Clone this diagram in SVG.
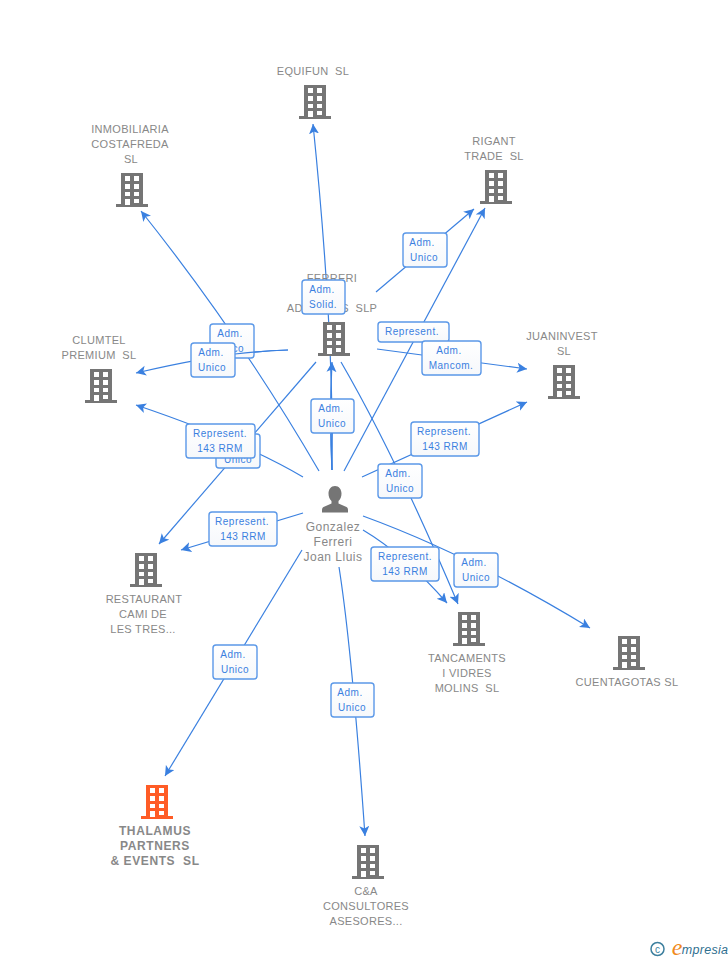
<svg xmlns="http://www.w3.org/2000/svg" width="728" height="960" viewBox="0 0 728 960">
<style>
text{font-family:"Liberation Sans",Arial,sans-serif;text-anchor:middle;white-space:pre}
.l{font-size:11px;fill:#888;letter-spacing:.3px}
.t{font-size:12px;font-weight:bold;fill:#888;letter-spacing:.6px}
.p{font-size:12px;fill:#888;letter-spacing:.5px}
.b{font-size:10px;fill:#3a80e0;letter-spacing:.5px}
.e{fill:none;stroke:#3a80e0;stroke-width:1.2;marker-end:url(#a)}
.n{fill:none;stroke:#3a80e0;stroke-width:1.2}
.box{fill:url(#g);stroke:#5b98e8;stroke-width:1.4}
</style>
<defs>
<linearGradient id="g" x1="0" y1="0" x2="0" y2="1"><stop offset="0" stop-color="#fff"/><stop offset="1" stop-color="#f6f8fb"/></linearGradient>
<marker id="a" markerUnits="userSpaceOnUse" markerWidth="11" markerHeight="11" refX="10" refY="5" orient="auto"><path d="M10,5 L0,0 L2.5,5 L0,10 z" fill="#3a80e0"/></marker>
<g id="bld">
<path d="M5,0H27V31H32V34H0V31H5Z"/>
<path fill="#fff" d="M9,3h5v5h-5zM18,3h5v5h-5zM9,11h5v5h-5zM18,11h5v5h-5zM9,19h5v4h-5zM18,19h5v4h-5zM9,26h5v6h-5zM18,26h5v4h-5z"/>
</g>
</defs>
<g id="connectors">
<path class="e" d="M332,470Q334,330 313,124"/>
<path class="e" d="M332,470Q329,420 332,362"/>
<path class="e" d="M319,471Q240,335 141,211"/>
<path class="e" d="M288,350Q230,351 136,373"/>
<path class="e" d="M303,477Q240,440 136,405"/>
<path class="e" d="M316,362L159,544"/>
<path class="e" d="M303,513L181,550"/>
<path class="e" d="M302,550L165,776"/>
<path class="e" d="M339,567Q352,650 365,836"/>
<path class="e" d="M363,516Q470,555 590,628"/>
<path class="e" d="M363,530Q405,555 447,603"/>
<path class="e" d="M341,362Q395,455 458,604"/>
<path class="e" d="M362,477L527,402"/>
<path class="e" d="M377,349L527,369"/>
<path class="e" d="M376,292L474,209"/>
<path class="e" d="M344,471L485,208"/>
</g>
<g id="n-equifun"><use href="#bld" x="299" y="85" fill="#757575"/><text class="l" x="313" y="75">EQUIFUN  SL</text></g>
<g id="n-inmobiliaria"><use href="#bld" x="116" y="173" fill="#757575"/><text class="l"><tspan x="130" y="133">INMOBILIARIA</tspan><tspan x="130" y="148">COSTAFREDA</tspan><tspan x="131" y="163">SL</tspan></text></g>
<g id="n-rigant"><use href="#bld" x="480" y="170" fill="#757575"/><text class="l"><tspan x="494" y="145">RIGANT</tspan><tspan x="494" y="160">TRADE  SL</tspan></text></g>
<g id="n-clumtel"><use href="#bld" x="85" y="369" fill="#757575"/><text class="l"><tspan x="99" y="344">CLUMTEL</tspan><tspan x="99" y="359">PREMIUM  SL</tspan></text></g>
<g id="n-ferreri"><use href="#bld" x="318" y="322" fill="#757575"/><text class="l"><tspan x="332" y="282">FERRERI</tspan><tspan x="332" y="312">ADVOCATS  SLP</tspan></text></g>
<g id="n-juaninvest"><use href="#bld" x="548" y="365" fill="#757575"/><text class="l"><tspan x="562" y="340">JUANINVEST</tspan><tspan x="564" y="355">SL</tspan></text></g>
<g id="n-restaurant"><use href="#bld" x="130" y="553" fill="#757575"/><text class="l"><tspan x="144" y="603">RESTAURANT</tspan><tspan x="143" y="618">CAMI DE</tspan><tspan x="143" y="633">LES TRES...</tspan></text></g>
<g id="n-tancaments"><use href="#bld" x="453" y="612" fill="#757575"/><text class="l"><tspan x="467" y="662">TANCAMENTS</tspan><tspan x="467" y="677">I VIDRES</tspan><tspan x="467" y="692">MOLINS  SL</tspan></text></g>
<g id="n-cuentagotas"><use href="#bld" x="613" y="636" fill="#757575"/><text class="l" x="627" y="686">CUENTAGOTAS SL</text></g>
<g id="n-thalamus"><use href="#bld" x="141" y="785" fill="#ff5c26"/><text class="t"><tspan x="155" y="835">THALAMUS</tspan><tspan x="155" y="850">PARTNERS</tspan><tspan x="155" y="865">&amp; EVENTS  SL</tspan></text></g>
<g id="n-ca"><use href="#bld" x="352" y="845" fill="#757575"/><text class="l"><tspan x="366" y="895">C&amp;A</tspan><tspan x="366" y="910">CONSULTORES</tspan><tspan x="366" y="925">ASESORES...</tspan></text></g>
<g id="n-gonzalez"><path fill="#757575" d="M335,486c-4,0-6.500,3.500-6.500,7.500c0,3,1,5.500,3,7.500v2.500l-8,3.500c-1,.5-1.500,1.500-1.500,3v2.500h26v-2.500c0-1.500-.5-2.500-1.500-3l-8-3.500v-2.500c2-2,3-4.500,3-7.500c0-4-2.500-7.500-6.500-7.500z"/><text class="p"><tspan x="333" y="531">Gonzalez</tspan><tspan x="333" y="546">Ferreri</tspan><tspan x="333" y="561">Joan Lluis</tspan></text></g>
<g id="edge-labels">
<g><rect class="box" x="210" y="324" width="44" height="34" rx="3"/><text class="b"><tspan x="230" y="337">Adm.</tspan><tspan x="230" y="352">Unico</tspan></text></g>
<path class="n" d="M288,350Q260,351 235,354"/>
<g><rect class="box" x="191" y="343" width="44" height="34" rx="3"/><text class="b"><tspan x="211" y="356">Adm.</tspan><tspan x="212" y="371">Unico</tspan></text></g>
<g><rect class="box" x="216" y="434" width="44" height="34" rx="3"/><text class="b"><tspan x="238" y="447">Adm.</tspan><tspan x="238" y="463">Unico</tspan></text></g>
<g><rect class="box" x="186" y="424" width="69" height="34" rx="3"/><text class="b"><tspan x="220" y="437">Represent.</tspan><tspan x="220" y="452">143 RRM</tspan></text></g>
<g><rect class="box" x="209" y="512" width="68" height="34" rx="3"/><text class="b"><tspan x="242" y="525">Represent.</tspan><tspan x="243" y="540">143 RRM</tspan></text></g>
<g><rect class="box" x="213" y="645" width="44" height="34" rx="3"/><text class="b"><tspan x="233" y="658">Adm.</tspan><tspan x="235" y="673">Unico</tspan></text></g>
<g><rect class="box" x="331" y="683" width="43" height="34" rx="3"/><text class="b"><tspan x="350" y="696">Adm.</tspan><tspan x="352" y="711">Unico</tspan></text></g>
<g><rect class="box" x="454" y="553" width="44" height="34" rx="3"/><text class="b"><tspan x="474" y="566">Adm.</tspan><tspan x="476" y="581">Unico</tspan></text></g>
<g><rect class="box" x="371" y="547" width="68" height="34" rx="3"/><text class="b"><tspan x="405" y="560">Represent.</tspan><tspan x="405" y="575">143 RRM</tspan></text></g>
<g><rect class="box" x="378" y="464" width="44" height="34" rx="3"/><text class="b"><tspan x="398" y="477">Adm.</tspan><tspan x="400" y="492">Unico</tspan></text></g>
<g><rect class="box" x="411" y="422" width="68" height="34" rx="3"/><text class="b"><tspan x="444" y="435">Represent.</tspan><tspan x="445" y="450">143 RRM</tspan></text></g>
<g><rect class="box" x="378" y="322" width="71" height="20" rx="3"/><text class="b" x="412" y="335">Represent.</text></g>
<g><rect class="box" x="422" y="341" width="59" height="34" rx="3"/><text class="b"><tspan x="449" y="354">Adm.</tspan><tspan x="451" y="369">Mancom.</tspan></text></g>
<g><rect class="box" x="403" y="233" width="44" height="34" rx="3"/><text class="b"><tspan x="422" y="246">Adm.</tspan><tspan x="424" y="261">Unico</tspan></text></g>
<g><rect class="box" x="311" y="399" width="43" height="34" rx="3"/><text class="b"><tspan x="331" y="412">Adm.</tspan><tspan x="332" y="427">Unico</tspan></text></g>
<path class="n" d="M332,433Q331,448 332,470"/>
<g><rect class="box" x="302" y="280" width="43" height="34" rx="3"/><text class="b"><tspan x="322" y="293">Adm.</tspan><tspan x="323" y="308">Solid.</tspan></text></g>
</g>
<g id="logo"><circle cx="657.500" cy="949" r="6.500" fill="none" stroke="#3d7f9e" stroke-width="1.5"/><text x="657.500" y="952.500" style="font-size:10px;fill:#3d7f9e">c</text><text x="677" y="955" style="font-size:24px;font-style:italic;fill:#f08a1d;font-family:'Liberation Serif',serif">e</text><text x="705" y="954" style="font-size:12.500px;font-style:italic;fill:#2f6f8f;letter-spacing:.3px">mpresia</text></g>
</svg>
